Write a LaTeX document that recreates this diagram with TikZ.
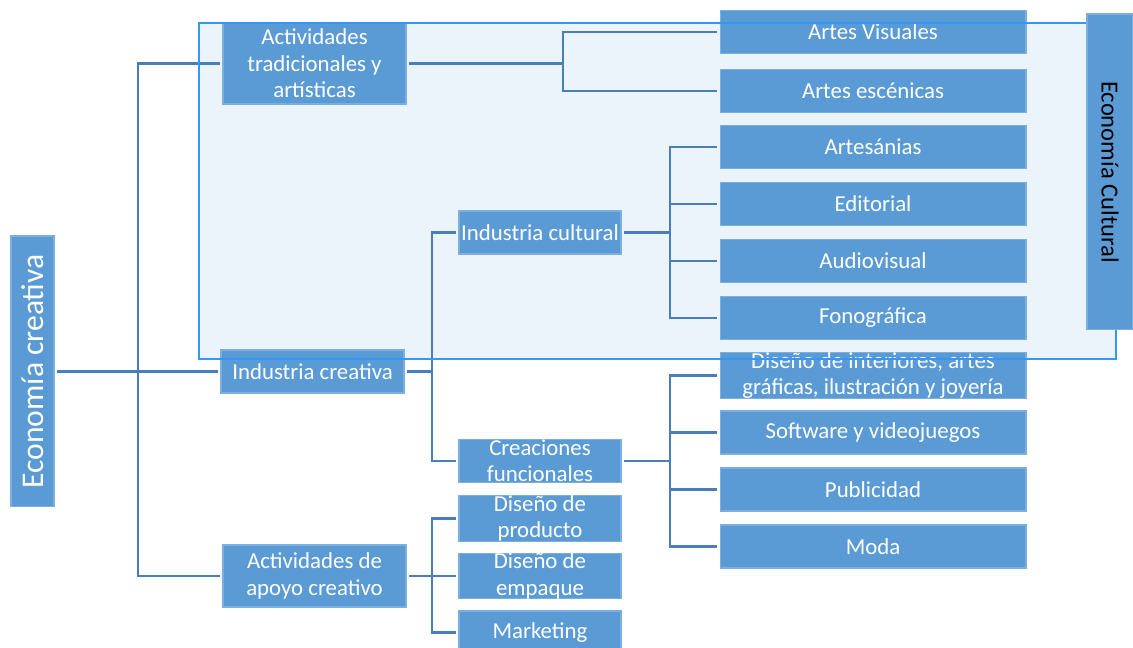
\documentclass[tikz,border=0pt]{standalone}
\usepackage{fontspec}
\setmainfont{Carlito}
\usetikzlibrary{positioning}

\definecolor{boxfill}{RGB}{91,155,213}
\definecolor{boxline}{RGB}{125,175,222}
\definecolor{linkcol}{RGB}{74,126,187}
\definecolor{panelfill}{RGB}{235,243,251}
\definecolor{panelline}{RGB}{55,150,245}

\tikzstyle{box} = [draw=boxline, line width=0.6pt, fill=boxfill, text=white, align=center, inner sep=0pt, outer sep=1.8pt, font=\fontsize{13}{15}\selectfont]
\tikzstyle{leaf} = [box, minimum width=6.12cm, minimum height=0.86cm]
\tikzstyle{mid} = [box, minimum width=3.24cm, minimum height=0.86cm]
\tikzstyle{top} = [box, minimum width=3.66cm]
\tikzstyle{link} = [draw=linkcol, line width=1.4pt]

\begin{document}
\begin{tikzpicture}[x=0.02cm, y=-0.02cm]
	\useasboundingbox (0,0) rectangle (1133,648);
	\fill[panelfill] (199,23) rectangle (1116,359);

	\node[box, rotate=90, minimum width=5.42cm, minimum height=0.86cm, font=\fontsize{18}{20}\selectfont] (r) at (32.5,371.5) {Economía creativa};

	\node[top, minimum height=1.62cm] (n1) at (314.5,63.5) {Actividades\\tradicionales y\\artísticas};
	\node[top, minimum height=0.86cm] (n2) at (312.5,371.5) {Industria creativa};
	\node[top, minimum height=1.24cm] (n3) at (314.5,576) {Actividades de\\apoyo creativo};

	\node[leaf] (n11) at (873,32) {Artes Visuales};
	\node[leaf] (n12) at (873,91) {Artes escénicas};

	\node[mid] (n21) at (540,232.5) {Industria cultural};
	\node[mid] (n22) at (540,461) {Creaciones\\funcionales};

	\node[leaf] (n211) at (873,147) {Artesánias};
	\node[leaf] (n212) at (873,204) {Editorial};
	\node[leaf] (n213) at (873,261) {Audiovisual};
	\node[leaf] (n214) at (873,318) {Fonográfica};

	\node[leaf] (n221) at (873,375.5) {Diseño de interiores, artes\\gráficas, ilustración y joyería};
	\node[leaf] (n222) at (873,432.5) {Software y videojuegos};
	\node[leaf] (n223) at (873,489.5) {Publicidad};
	\node[leaf] (n224) at (873,546.5) {Moda};

	\node[mid] (n31) at (540,518.5) {Diseño de\\producto};
	\node[mid] (n32) at (540,576) {Diseño de\\empaque};
	\node[mid] (n33) at (540,632.5) {Marketing};

	\coordinate (j0) at (138,371.5);
	\coordinate (j1) at (563,63.5);
	\coordinate (j2) at (432,371.5);
	\coordinate (j21) at (670,232.5);
	\coordinate (j22) at (670,461);
	\coordinate (j3) at (432,576);

	\draw[link] (r) -- (j0);
	\draw[link] (j0) -- (n2);
	\draw[link] (j0) |- (n1);
	\draw[link] (j0) |- (n3);

	\draw[link] (n1) -- (j1);
	\draw[link] (j1) |- (n11);
	\draw[link] (j1) |- (n12);

	\draw[link] (n2) -- (j2);
	\draw[link] (j2) |- (n21);
	\draw[link] (j2) |- (n22);

	\draw[link] (n21) -- (j21);
	\draw[link] (j21) |- (n211);
	\draw[link] (j21) |- (n212);
	\draw[link] (j21) |- (n213);
	\draw[link] (j21) |- (n214);

	\draw[link] (n22) -- (j22);
	\draw[link] (j22) |- (n221);
	\draw[link] (j22) |- (n222);
	\draw[link] (j22) |- (n223);
	\draw[link] (j22) |- (n224);

	\draw[link] (n3) -- (j3);
	\draw[link] (j3) |- (n31);
	\draw[link] (j3) -- (n32);
	\draw[link] (j3) |- (n33);

	\draw[panelline, line width=1.2pt] (199,23) rectangle (1116,359);

	\node[box, rotate=-90, text=black, minimum width=6.32cm, minimum height=0.92cm, font=\fontsize{14}{16}\selectfont] (ec) at (1110,172) {Economía Cultural};
\end{tikzpicture}
\end{document}
